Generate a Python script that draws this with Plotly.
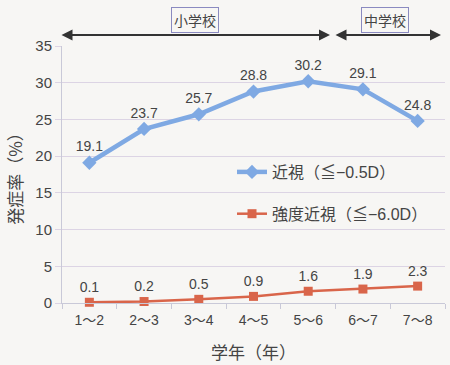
import plotly.graph_objects as go

grades = ["1〜2", "2〜3", "3〜4", "4〜5", "5〜6", "6〜7", "7〜8"]
myopia = [19.1, 23.7, 25.7, 28.8, 30.2, 29.1, 24.8]
high_myopia = [0.1, 0.2, 0.5, 0.9, 1.6, 1.9, 2.3]
y_ticks = [0, 5, 10, 15, 20, 25, 30, 35]

FONT = "Liberation Sans, Noto Sans CJK JP, sans-serif"
JFONT = "Noto Sans CJK JP, sans-serif"
BLUE = "#7fa9e3"
RED = "#d9654a"
TXT = "#444444"
BG = "#f7f6f4"

fig = go.Figure()
fig.add_trace(go.Scatter(
    x=grades, y=myopia, mode="lines+markers+text",
    name="近視（≦−0.5D）",
    line=dict(color=BLUE, width=4.5),
    marker=dict(symbol="diamond", size=11, color=BLUE),
    text=[f"{v:.1f}" for v in myopia], textposition="top center",
    textfont=dict(size=14, color=TXT, family=FONT),
    cliponaxis=False, legendgroup="a",
))
fig.add_trace(go.Scatter(
    x=grades, y=high_myopia, mode="lines+markers+text",
    name="強度近視（≦−6.0D）",
    line=dict(color=RED, width=2.5),
    marker=dict(symbol="square", size=9, color=RED),
    text=[f"{v:.1f}" for v in high_myopia], textposition="top center",
    textfont=dict(size=14, color=TXT, family=FONT),
    cliponaxis=False, legendgroup="b",
))

# school period arrows (paper coordinates, pixel tails)
fig.add_annotation(x=(330 - 62) / 383, y=(303 - 35) / 257, xref="paper", yref="paper", ax=-270, ay=0,
                   axref="pixel", ayref="pixel",
                   text="", showarrow=True, arrowhead=2, arrowside="end+start",
                   arrowsize=1, arrowwidth=2.2, arrowcolor="#333333")
fig.add_annotation(x=(441 - 62) / 383, y=(303 - 35) / 257, xref="paper", yref="paper", ax=-107, ay=0,
                   axref="pixel", ayref="pixel",
                   text="", showarrow=True, arrowhead=2, arrowside="end+start",
                   arrowsize=1, arrowwidth=2.2, arrowcolor="#333333")
fig.add_annotation(x=(195 - 62) / 383, y=(303 - 20) / 257, xref="paper", yref="paper",
                   xanchor="center", yanchor="middle",
                   text="小学校", showarrow=False,
                   font=dict(size=14, color=TXT, family=JFONT),
                   bordercolor="#8a8ac0", borderwidth=1, borderpad=2, bgcolor=BG)
fig.add_annotation(x=(385 - 62) / 383, y=(303 - 20) / 257, xref="paper", yref="paper",
                   xanchor="center", yanchor="middle",
                   text="中学校", showarrow=False,
                   font=dict(size=14, color=TXT, family=JFONT),
                   bordercolor="#8a8ac0", borderwidth=1, borderpad=2, bgcolor=BG)

fig.update_layout(
    width=450, height=365,
    margin=dict(l=62, r=5, t=46, b=62, autoexpand=False),
    paper_bgcolor=BG, plot_bgcolor=BG,
    font=dict(family=FONT, color=TXT, size=13),
    showlegend=True,
    legend=dict(x=(232 - 62) / 383, y=(303 - 193) / 257, xanchor="left", yanchor="middle",
                bgcolor="rgba(0,0,0,0)", font=dict(size=16, color=TXT, family=FONT),
                tracegroupgap=18, itemwidth=30),
    xaxis=dict(
        type="category", range=[-0.5, 6.5], automargin=False,
        showgrid=False, showline=True, linecolor="#c9c9d8", linewidth=1,
        ticks="outside", ticklen=5, tickcolor="#c9c9d8", tickson="boundaries",
        ticklabelstandoff=4,
        tickfont=dict(size=14, color=TXT, family=FONT),
        title=dict(text="学年（年）", font=dict(size=17, color=TXT, family=JFONT), standoff=20),
        zeroline=False,
    ),
    yaxis=dict(
        range=[0, 35], tickvals=y_ticks, automargin=False,
        showgrid=True, gridcolor="#dcd4e4", gridwidth=1,
        showline=True, linecolor="#c9c9d8", linewidth=1,
        ticks="outside", ticklen=6, tickcolor="#dcd4e4",
        tickfont=dict(size=15, color=TXT, family=FONT),
        title=dict(text="発症率（%）", font=dict(size=17, color=TXT, family=JFONT), standoff=8),
        zeroline=False,
    ),
)

fig.write_html("out.html", config={"displayModeBar": False},
               post_script="document.body.style.margin='0';document.body.style.background='%s';" % BG)
